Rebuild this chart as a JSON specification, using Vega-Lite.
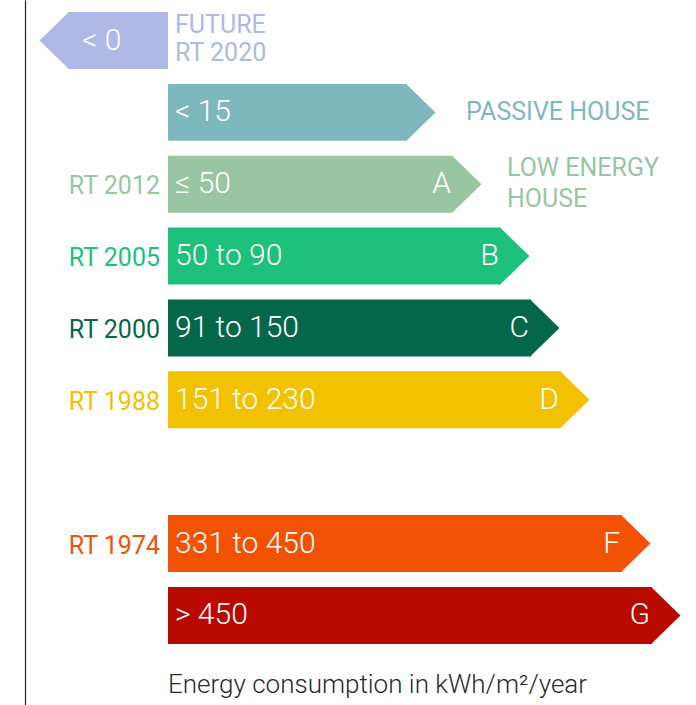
{
  "$schema": "https://vega.github.io/schema/vega-lite/v6.json",
  "width": 671,
  "height": 705,
  "autosize": "none",
  "padding": {"left": 25, "top": 0, "right": 0, "bottom": 0},
  "config": {"view": {"stroke": null}, "font": "Roboto"},
  "title": {
    "text": "Energy consumption in kWh/m²/year",
    "orient": "bottom",
    "anchor": "start",
    "frame": "group",
    "offset": 0,
    "dx": 143,
    "dy": -12,
    "baseline": "alphabetic",
    "font": "Roboto",
    "fontSize": 26,
    "fontWeight": 300,
    "color": "#2a2a2a"
  },
  "data": {
    "values": [
      {"level": "future", "range": "< 0", "letter": "", "rt": "", "note": "FUTURE\nRT 2020", "start": -100, "end": 0},
      {"level": "passive", "range": "< 15", "letter": "", "rt": "", "note": "PASSIVE HOUSE", "start": 0, "end": 239},
      {"level": "A", "range": "≤ 50", "letter": "A", "rt": "RT 2012", "note": "LOW ENERGY\nHOUSE", "start": 0, "end": 285},
      {"level": "B", "range": "50 to 90", "letter": "B", "rt": "RT 2005", "note": "", "start": 0, "end": 333},
      {"level": "C", "range": "91 to 150", "letter": "C", "rt": "RT 2000", "note": "", "start": 0, "end": 363},
      {"level": "D", "range": "151 to 230", "letter": "D", "rt": "RT 1988", "note": "", "start": 0, "end": 393},
      {"level": "F", "range": "331 to 450", "letter": "F", "rt": "RT 1974", "note": "", "start": 0, "end": 454},
      {"level": "G", "range": "> 450", "letter": "G", "rt": "", "note": "", "start": 0, "end": 484}
    ]
  },
  "encoding": {
    "y": {
      "field": "level",
      "type": "nominal",
      "scale": {
        "domain": ["future", "passive", "A", "B", "C", "D", "E", "F", "G"],
        "paddingInner": 0.207,
        "paddingOuter": 0.508,
        "align": 0.1644,
        "round": false
      },
      "axis": {"labels": false, "ticks": false, "title": null, "grid": false, "domainColor": "#222222", "domainWidth": 1.2}
    },
    "color": {
      "field": "level",
      "type": "nominal",
      "scale": {
        "domain": ["future", "passive", "A", "B", "C", "D", "F", "G"],
        "range": ["#B0B8E6", "#7FB7BF", "#9AC5A3", "#1DC17B", "#05674A", "#F2C100", "#F25204", "#B80A00"]
      },
      "legend": null
    }
  },
  "layer": [
    {
      "mark": {"type": "bar", "cornerRadius": 0},
      "encoding": {
        "x": {
          "field": "start",
          "type": "quantitative",
          "scale": {"domain": [-143, 528], "nice": false, "zero": false},
          "axis": null
        },
        "x2": {"field": "end"}
      }
    },
    {
      "transform": [{"filter": "datum.level != 'future'"}],
      "mark": {"type": "point", "shape": "M-0.03,-1L1,0L-0.03,1Z", "size": 3249, "filled": true, "opacity": 1, "strokeWidth": 0},
      "encoding": {
        "x": {"field": "end", "type": "quantitative", "scale": {"domain": [-143, 528], "nice": false, "zero": false}, "axis": null}
      }
    },
    {
      "transform": [{"filter": "datum.level == 'future'"}],
      "mark": {"type": "point", "shape": "M0.03,-1L-1,0L0.03,1Z", "size": 3249, "filled": true, "opacity": 1, "strokeWidth": 0},
      "encoding": {
        "x": {"field": "start", "type": "quantitative", "scale": {"domain": [-143, 528], "nice": false, "zero": false}, "axis": null}
      }
    },
    {
      "transform": [{"filter": "datum.level != 'future'"}],
      "mark": {"type": "text", "align": "left", "baseline": "middle", "dx": 7, "fontSize": 30, "fontWeight": 300, "font": "Roboto"},
      "encoding": {
        "x": {"field": "start", "type": "quantitative", "scale": {"domain": [-143, 528], "nice": false, "zero": false}, "axis": null},
        "text": {"field": "range"},
        "color": {"value": "#ffffff"}
      }
    },
    {
      "transform": [{"filter": "datum.level == 'future'"}],
      "mark": {"type": "text", "align": "left", "baseline": "middle", "dx": 14, "fontSize": 30, "fontWeight": 300, "font": "Roboto"},
      "encoding": {
        "x": {"field": "start", "type": "quantitative", "scale": {"domain": [-143, 528], "nice": false, "zero": false}, "axis": null},
        "text": {"field": "range"},
        "color": {"value": "#ffffff"}
      }
    },
    {
      "transform": [{"filter": "datum.letter != ''"}],
      "mark": {"type": "text", "align": "right", "baseline": "middle", "dx": -2, "fontSize": 30, "fontWeight": 300, "font": "Roboto"},
      "encoding": {
        "x": {"field": "end", "type": "quantitative", "scale": {"domain": [-143, 528], "nice": false, "zero": false}, "axis": null},
        "text": {"field": "letter"},
        "color": {"value": "#ffffff"}
      }
    },
    {
      "transform": [{"filter": "datum.rt != ''"}],
      "mark": {"type": "text", "align": "right", "baseline": "middle", "dx": -8, "dy": 2, "fontSize": 25, "fontWeight": 400, "font": "Roboto"},
      "encoding": {
        "x": {"datum": 0, "type": "quantitative", "scale": {"domain": [-143, 528], "nice": false, "zero": false}, "axis": null},
        "text": {"field": "rt"}
      }
    },
    {
      "transform": [{"filter": "datum.level == 'future'"}],
      "mark": {"type": "text", "align": "left", "baseline": "middle", "dx": 7, "dy": -16, "fontSize": 25, "fontWeight": 400, "font": "Roboto", "lineBreak": "\n", "lineHeight": 28},
      "encoding": {
        "x": {"field": "end", "type": "quantitative", "scale": {"domain": [-143, 528], "nice": false, "zero": false}, "axis": null},
        "text": {"field": "note"}
      }
    },
    {
      "transform": [{"filter": "datum.level == 'passive'"}],
      "mark": {"type": "text", "align": "left", "baseline": "middle", "dx": 59, "dy": 0, "fontSize": 25, "fontWeight": 400, "font": "Roboto"},
      "encoding": {
        "x": {"field": "end", "type": "quantitative", "scale": {"domain": [-143, 528], "nice": false, "zero": false}, "axis": null},
        "text": {"field": "note"}
      }
    },
    {
      "transform": [{"filter": "datum.level == 'A'"}],
      "mark": {"type": "text", "align": "left", "baseline": "middle", "dx": 54, "dy": -16, "fontSize": 25, "fontWeight": 400, "font": "Roboto", "lineBreak": "\n", "lineHeight": 31},
      "encoding": {
        "x": {"field": "end", "type": "quantitative", "scale": {"domain": [-143, 528], "nice": false, "zero": false}, "axis": null},
        "text": {"field": "note"}
      }
    }
  ]
}
